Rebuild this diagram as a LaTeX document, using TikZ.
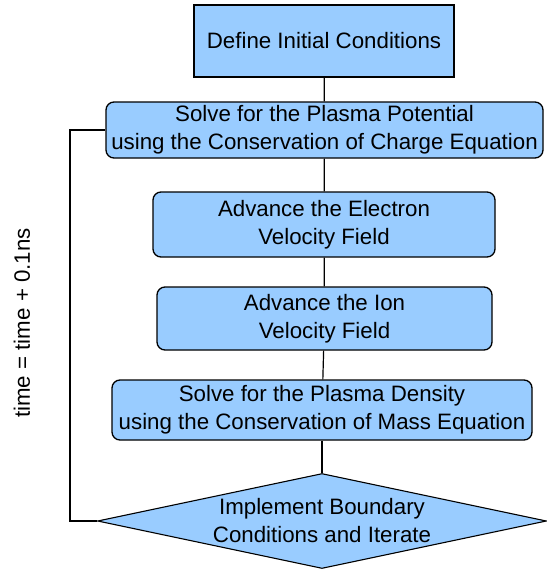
\documentclass[tikz,border=0pt]{standalone}
\usepackage{fontspec}
\setmainfont{Liberation Sans}
\usetikzlibrary{shapes.geometric}
\definecolor{stepblue}{HTML}{99CCFF}
\begin{document}
\begin{tikzpicture}[
    x=1pt, y=-1pt,
    stepbox/.style={draw, fill=stepblue, line width=1.3pt, rounded corners=8pt, align=center, inner sep=0pt, font=\fontsize{22.3}{28}\selectfont},
    startbox/.style={stepbox, rounded corners=0pt},
    check/.style={draw, fill=stepblue, line width=1.1pt, diamond, aspect=4.7, inner sep=0pt, align=center, font=\fontsize{22.3}{28}\selectfont},
    link/.style={line width=1.2pt}
]
\useasboundingbox (0,0) rectangle (546,570);

% Main steps
\node[startbox, minimum width=260pt, minimum height=72pt] (init) at (324,41) {Define Initial Conditions};
\node[stepbox, minimum width=437pt, minimum height=56pt] (potential) at (324.5,130) {Solve for the Plasma Potential\\using the Conservation of Charge Equation};
\node[stepbox, minimum width=342pt, minimum height=65pt] (electron) at (324,224.5) {Advance the Electron\\Velocity Field};
\node[stepbox, minimum width=335pt, minimum height=63pt] (ion) at (324.5,318.5) {Advance the Ion\\Velocity Field};
\node[stepbox, minimum width=420pt, minimum height=60pt] (density) at (322,410) {Solve for the Plasma Density\\using the Conservation of Mass Equation};
\node[check, minimum width=449pt, minimum height=95pt] (iterate) at (322,521) {Implement Boundary\\Conditions and Iterate};

% Links between steps
\draw[link] (init) -- (potential);
\draw[link] (potential) -- (electron);
\draw[link] (electron) -- (ion);
\draw[link] (ion) -- (density);
\draw[link] (density) -- (iterate);

% Loop back to the potential solve
\coordinate (loop) at (70,330);
\draw[link] (iterate.west) -| (loop) |- (potential.west);
\node[rotate=90, font=\fontsize{22.3}{26}\selectfont] (timestep) at (22,323) {time = time + 0.1ns};
\end{tikzpicture}
\end{document}
